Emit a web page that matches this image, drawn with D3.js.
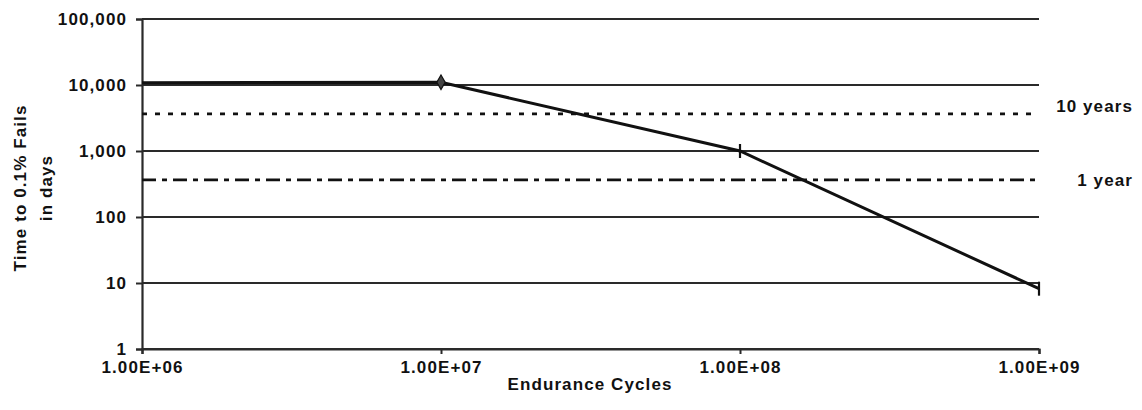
<!DOCTYPE html>
<html><head><meta charset="utf-8">
<script src="https://cdn.jsdelivr.net/npm/d3@7"></script>
<style>
body{margin:0;background:#fff;}
svg text{font-family:"Liberation Sans",Arial,sans-serif;font-weight:bold;fill:#111;letter-spacing:1.1px;}
</style></head>
<body><svg id="c" width="1142" height="410"></svg>
<script>
const cycles = [1e6, 1e7, 1e8, 1e9];
const days = [10800, 11000, 1000, 8.2];
const yTicks = [1, 10, 100, 1000, 10000, 100000];
const xTicks = [1e6, 1e7, 1e8, 1e9];
const refValues = [3650, 365];
const refLabels = ["10 years", "1 year"];

const svg = d3.select("#c");
const x = d3.scaleLog().domain([1e6, 1e9]).range([142, 1039]);
const y = d3.scaleLog().domain([1, 100000]).range([349, 19]);
const fmtY = d3.format(",");
const fmtX = v => v.toExponential(2).toUpperCase().replace(/E\+(\d)$/, "E+0$1");
const FS = 17;

// gridlines
svg.append("g").selectAll("line").data(yTicks).join("line")
  .attr("x1", x(1e6)).attr("x2", x(1e9))
  .attr("y1", d => y(d)).attr("y2", d => y(d))
  .attr("stroke", "#2a2a2a").attr("stroke-width", 2.2);
svg.append("g").selectAll("line").data(yTicks.slice(1, 2)).join("line")
  .attr("x1", x(1e9)).attr("x2", x(1e9))
  .attr("y1", d => y(d)).attr("y2", d => y(d) + 6)
  .attr("stroke", "#2a2a2a").attr("stroke-width", 2);

// y axis
const ya = svg.append("g").attr("transform", `translate(${x(1e6)},0)`)
  .call(d3.axisLeft(y).tickValues(yTicks).tickFormat(fmtY).tickSize(6).tickPadding(9));
ya.select(".domain").attr("stroke", "#2a2a2a").attr("stroke-width", 2.2);
ya.selectAll(".tick line").attr("stroke", "#2a2a2a").attr("stroke-width", 2);
ya.selectAll("text").attr("font-size", FS).attr("font-family", null).attr("fill", "#111").attr("dy", "0.35em");

// x axis
const xa = svg.append("g").attr("transform", `translate(0,${y(1)})`)
  .call(d3.axisBottom(x).tickValues(xTicks).tickFormat(fmtX).tickSize(5).tickPadding(7));
xa.select(".domain").attr("stroke", "#2a2a2a").attr("stroke-width", 2.2);
xa.selectAll(".tick line").attr("stroke", "#2a2a2a").attr("stroke-width", 2);
xa.selectAll("text").attr("font-size", FS).attr("font-family", null).attr("fill", "#111");

// reference lines
const dashes = ["5,8", "14,6,5,6"];
refValues.forEach((v, i) => {
  svg.append("line").attr("x1", x(1e6)).attr("x2", x(1e9))
    .attr("y1", y(v)).attr("y2", y(v))
    .attr("stroke", "#111").attr("stroke-width", 2.6).attr("stroke-dasharray", dashes[i]);
});
svg.append("text").attr("x", 1133).attr("y", y(refValues[0]) - 2)
  .attr("text-anchor", "end").attr("font-size", FS).text(refLabels[0]);
svg.append("text").attr("x", 1133).attr("y", y(refValues[1]) + 6)
  .attr("text-anchor", "end").attr("font-size", FS).text(refLabels[1]);

// data line
const pts = cycles.map((c, i) => [c, days[i]]);
svg.append("path").datum(pts)
  .attr("d", d3.line().x(d => x(d[0])).y(d => y(d[1])))
  .attr("fill", "none").attr("stroke", "#111").attr("stroke-width", 3);

// markers
svg.append("path").attr("d", d3.symbol(d3.symbolDiamond, 60)())
  .attr("transform", `translate(${x(cycles[1])},${y(days[1])})`).attr("fill", "#444").attr("stroke", "#111").attr("stroke-width", 1.2);
[2, 3].forEach(i => {
  svg.append("line").attr("x1", x(cycles[i])).attr("x2", x(cycles[i]))
    .attr("y1", y(days[i]) - 7).attr("y2", y(days[i]) + 7)
    .attr("stroke", "#111").attr("stroke-width", 2.2);
});

// titles
svg.append("text").attr("x", 590).attr("y", 390).attr("text-anchor", "middle")
  .attr("font-size", FS).text("Endurance Cycles");
svg.append("text").attr("transform", "translate(26,188) rotate(-90)").attr("text-anchor", "middle")
  .attr("font-size", FS).text("Time to 0.1% Fails");
svg.append("text").attr("transform", "translate(52,188) rotate(-90)").attr("text-anchor", "middle")
  .attr("font-size", FS).text("in days");
</script></body></html>
